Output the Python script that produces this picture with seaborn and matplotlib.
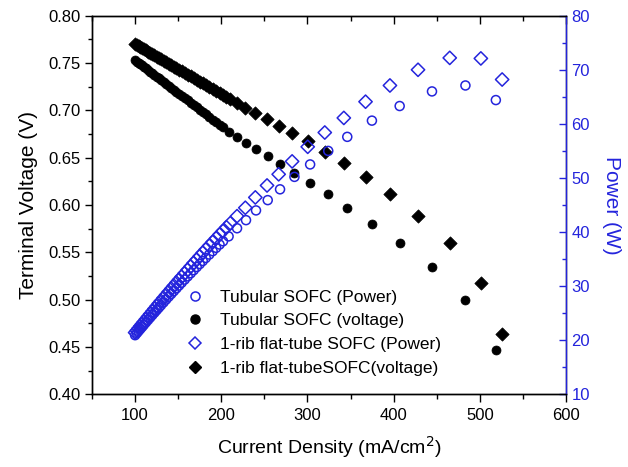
import matplotlib
matplotlib.use("Agg")
import matplotlib.pyplot as plt
import seaborn as sns
import pandas as pd
from matplotlib.ticker import MultipleLocator
from matplotlib.lines import Line2D

sns.set_style("ticks")
plt.rcParams['font.family'] = ['Liberation Sans', 'DejaVu Sans']
plt.rcParams['text.color'] = 'black'
plt.rcParams['axes.labelcolor'] = 'black'
plt.rcParams['xtick.color'] = 'black'
plt.rcParams['ytick.color'] = 'black'

BLUE = "#2424dc"

# ---- Tubular SOFC ----
tub_current = [100.0, 102.0, 104.0, 106.0, 108.0, 110.0, 112.5, 115.0, 117.5, 120.0,
               122.5, 125.0, 127.5, 130.0, 133.0, 136.0, 139.0, 142.0, 145.0, 148.0,
               151.0, 154.0, 157.5, 161.0, 164.5, 168.0, 171.5, 175.0, 178.5, 182.0,
               186.0, 190.0, 194.0, 198.0, 202.0, 208.5, 218.3, 228.7, 240.3,
               253.9, 268.2, 284.9, 303.1, 324.1, 346.2, 374.8, 407.0, 444.5, 483.3, 518.6]
tub_voltage = [0.7530, 0.7516, 0.7502, 0.7488, 0.7474, 0.7460, 0.7443, 0.7425, 0.7408, 0.7391,
               0.7373, 0.7356, 0.7338, 0.7321, 0.7300, 0.7279, 0.7258, 0.7237, 0.7216, 0.7195,
               0.7175, 0.7154, 0.7129, 0.7105, 0.7080, 0.7056, 0.7032, 0.7007, 0.6983, 0.6958,
               0.6931, 0.6903, 0.6875, 0.6847, 0.6819, 0.6774, 0.6720, 0.6652, 0.6588,
               0.6518, 0.6433, 0.6335, 0.6236, 0.6113, 0.5965, 0.5799, 0.5595, 0.5342, 0.4996, 0.4468]
tub_power = [20.93, 21.31, 21.69, 22.07, 22.44, 22.81, 23.28, 23.74, 24.20, 24.66,
             25.11, 25.56, 26.01, 26.46, 26.99, 27.52, 28.05, 28.57, 29.09, 29.60,
             30.12, 30.63, 31.21, 31.80, 32.38, 32.95, 33.53, 34.09, 34.65, 35.21,
             35.84, 36.46, 37.08, 37.69, 38.29, 39.2, 40.7, 42.2, 44.0,
             45.9, 47.9, 50.2, 52.5, 55.0, 57.6, 60.6, 63.3, 66.0, 67.1, 64.4]

# ---- 1-rib flat-tube SOFC ----
flat_current = [100.0, 102.0, 104.0, 106.0, 108.0, 110.0, 112.5, 115.0, 117.5, 120.0,
                122.5, 125.0, 127.5, 130.0, 133.0, 136.0, 139.0, 142.0, 145.0, 148.0,
                151.0, 154.0, 157.5, 161.0, 164.5, 168.0, 171.5, 175.0, 178.5, 182.0,
                186.0, 190.0, 194.0, 198.0, 202.0, 206.0, 210.5, 218.3, 227.9,
                239.5, 253.1, 266.6, 282.2, 300.3, 320.1, 342.2, 367.4, 395.7, 428.3,
                465.1, 501.2, 525.9]
flat_voltage = [0.7700, 0.7689, 0.7679, 0.7668, 0.7658, 0.7647, 0.7634, 0.7621, 0.7608, 0.7594,
                0.7581, 0.7568, 0.7555, 0.7542, 0.7526, 0.7510, 0.7494, 0.7478, 0.7462, 0.7447,
                0.7431, 0.7415, 0.7396, 0.7378, 0.7359, 0.7341, 0.7322, 0.7304, 0.7286, 0.7267,
                0.7246, 0.7225, 0.7204, 0.7183, 0.7161, 0.7140, 0.7116, 0.7075, 0.7022,
                0.6969, 0.6909, 0.6838, 0.6764, 0.6679, 0.6563, 0.6441, 0.6299, 0.6113, 0.5887,
                0.5595, 0.5173, 0.4634]
flat_power = [21.41, 21.80, 22.20, 22.60, 22.99, 23.38, 23.87, 24.36, 24.85, 25.33,
              25.82, 26.30, 26.78, 27.26, 27.83, 28.39, 28.96, 29.52, 30.08, 30.64,
              31.19, 31.74, 32.38, 33.02, 33.65, 34.29, 34.91, 35.53, 36.16, 36.77,
              37.47, 38.16, 38.85, 39.54, 40.21, 40.89, 41.64, 42.94, 44.49,
              46.40, 48.61, 50.68, 53.06, 55.76, 58.4, 61.1, 64.1, 67.1, 70.0,
              72.2, 72.1, 68.2]

labels = ["Tubular SOFC (Power)", "Tubular SOFC (voltage)",
          "1-rib flat-tube SOFC (Power)", "1-rib flat-tubeSOFC(voltage)"]

x_ticks = [100, 200, 300, 400, 500, 600]
yl_ticks = [0.40, 0.45, 0.50, 0.55, 0.60, 0.65, 0.70, 0.75, 0.80]
yr_ticks = [10, 20, 30, 40, 50, 60, 70, 80]

tub = pd.DataFrame({"i": tub_current, "v": tub_voltage, "p": tub_power})
flat = pd.DataFrame({"i": flat_current, "v": flat_voltage, "p": flat_power})

fig = plt.figure(figsize=(6.28, 4.67), dpi=100)
ax = fig.add_axes([92/628, 1 - 394.3/467, 474/628, 378.6/467])
ax2 = ax.twinx()

ms_o = 42
ms_d = 46
sns.scatterplot(data=tub, x="i", y="v", ax=ax, marker="o", s=ms_o, color="black",
                edgecolor="black", linewidth=0.5, legend=False, zorder=3)
sns.scatterplot(data=flat, x="i", y="v", ax=ax, marker="D", s=ms_d, color="black",
                edgecolor="black", linewidth=0.5, legend=False, zorder=3)
sns.scatterplot(data=tub, x="i", y="p", ax=ax2, marker="o", s=ms_o, facecolor="none",
                edgecolor=BLUE, linewidth=1.1, legend=False, zorder=3)
sns.scatterplot(data=flat, x="i", y="p", ax=ax2, marker="D", s=ms_d, facecolor="none",
                edgecolor=BLUE, linewidth=1.1, legend=False, zorder=3)

ax.set_xlim(50, 600)
ax.set_ylim(0.40, 0.80)
ax2.set_ylim(10, 80)
ax.set_xticks(x_ticks)
ax.set_yticks(yl_ticks)
ax.set_yticklabels([f"{t:.2f}" for t in yl_ticks])
ax2.set_yticks(yr_ticks)
ax.xaxis.set_minor_locator(MultipleLocator(50))
ax.yaxis.set_minor_locator(MultipleLocator(0.025))
ax2.yaxis.set_minor_locator(MultipleLocator(5))

for a in (ax, ax2):
    for s in a.spines.values():
        s.set_linewidth(1.0)
        s.set_color("black")
ax2.spines["right"].set_color(BLUE)

ax.tick_params(axis="x", which="major", direction="out", length=6, width=1, labelsize=12,
               top=True, bottom=True, pad=4, colors="black")
ax.tick_params(axis="x", which="minor", direction="out", length=3.5, width=1, top=True, bottom=True)
ax.tick_params(axis="y", which="major", direction="out", length=5, width=1, labelsize=12,
               left=True, right=False, colors="black")
ax.tick_params(axis="y", which="minor", direction="out", length=3, width=1, left=True, right=False)
ax2.tick_params(axis="y", which="major", direction="in", length=5, width=1, labelsize=12,
                colors=BLUE, right=True, left=False, pad=4)
ax2.tick_params(axis="y", which="minor", direction="in", length=3, width=1, colors=BLUE, right=True, left=False)
# top ticks inward
for t in ax.xaxis.get_major_ticks() + ax.xaxis.get_minor_ticks():
    t.tick2line.set_marker(3)

ax.set_xlabel("Current Density (mA/cm$^2$)", fontsize=14, labelpad=8, color="black")
ax.set_ylabel("Terminal Voltage (V)", fontsize=15, labelpad=7, color="black")
ax2.set_ylabel("Power (W)", fontsize=15, color=BLUE, rotation=270, labelpad=22)

handles = [
    Line2D([], [], ls="none", marker="o", ms=6.5, mfc="none", mec=BLUE, mew=1.1),
    Line2D([], [], ls="none", marker="o", ms=6.5, mfc="black", mec="black"),
    Line2D([], [], ls="none", marker="D", ms=6, mfc="none", mec=BLUE, mew=1.1),
    Line2D([], [], ls="none", marker="D", ms=6, mfc="black", mec="black"),
]
ax2.legend(handles, labels, loc="upper left", bbox_to_anchor=(0.195, 0.277), frameon=False,
           fontsize=12.5, handlelength=1.2, handletextpad=0.85, labelspacing=0.5, borderpad=0,
           borderaxespad=0)

fig.savefig("out.png", dpi=100)
